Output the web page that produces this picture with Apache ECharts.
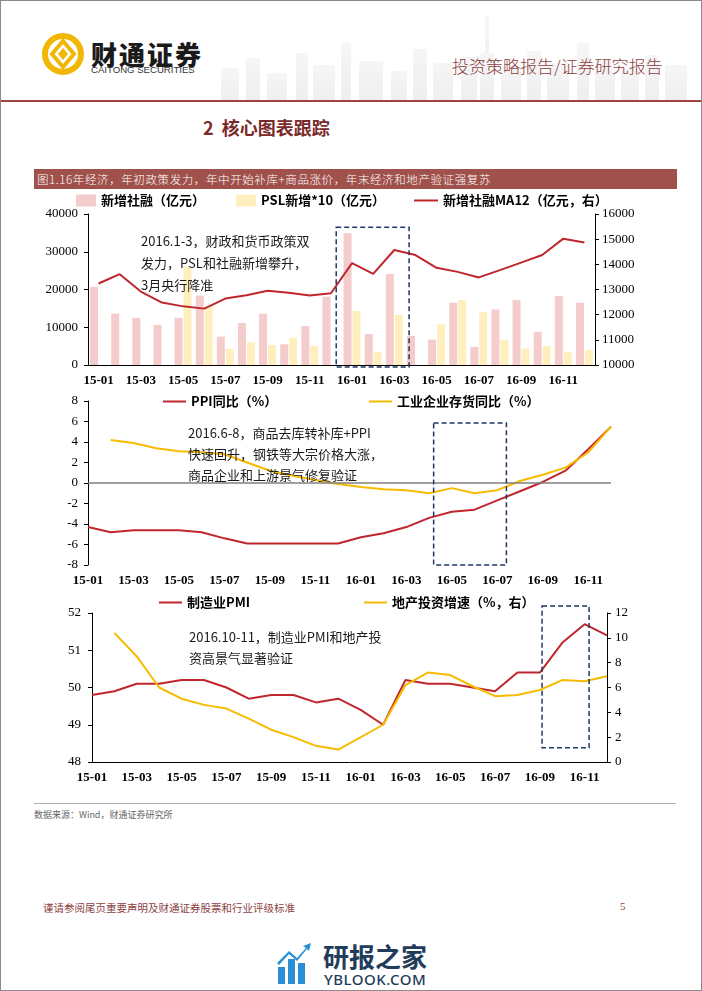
<!DOCTYPE html>
<html>
<head>
<meta charset="utf-8">
<title>核心图表跟踪</title>
<script src="https://cdn.jsdelivr.net/npm/echarts@6/dist/echarts.min.js"></script>
<style>
body { margin: 0; background: #fff; }
#page {
  position: relative;
  width: 702px;
  height: 991px;
  background: #fff;
  overflow: hidden;
  box-sizing: border-box;
  border: 1px solid #8a8a8a;
  font-family: "Noto Sans CJK SC", sans-serif;
}
#page .abs { position: absolute; white-space: nowrap; }
#chart { position: absolute; left: 0; top: 0; width: 702px; height: 991px; z-index: 2; }
.brand { left: 90px; top: 34px; font-size: 26px; font-weight: 900; letter-spacing: 2px; color: #1a1a1a; }
.brand-en { left: 90px; top: 63px; font-family: "Liberation Sans", Arial, sans-serif; font-size: 9.6px; color: #333; }
.report { left: 451px; top: 52px; font-size: 17px; color: #8b3f3f; font-weight: 300; }
.redline { left: 0; top: 99px; width: 702px; height: 2px; background: #a04343; }
.section { left: 202px; top: 113px; font-size: 18px; font-weight: bold; color: #7a2a2a; }
.titlebar {
  left: 33px; top: 168px; width: 643px; height: 20px; line-height: 20px;
  background: #a0514c; color: #fff; font-size: 11.5px; letter-spacing: 0.6px;
  padding-left: 3px; box-sizing: border-box; font-weight: 300;
}
.sep { left: 33px; top: 802px; width: 642px; height: 1px; background: #b0b0b0; }
.source { left: 33px; top: 807px; font-size: 9px; color: #666; }
.footer { left: 42px; top: 899px; font-size: 10.5px; color: #8b3f3f; }
.pageno { left: 619px; top: 899px; font-size: 11px; color: #8b3f3f; font-family: "Liberation Serif", serif; }
.wm1 { left: 322px; top: 936px; font-size: 26px; font-weight: bold; color: #1f3c5a; }
.wm2 { left: 323px; top: 968px; font-size: 15px; font-weight: 500; color: #1f3c5a; letter-spacing: 0.5px; font-family: "Noto Sans", sans-serif; }
</style>
</head>
<body>
<div id="page">
  <svg class="abs" style="left:200px;top:12px" width="502" height="88">
    <defs>
      <linearGradient id="fade" x1="0" y1="0" x2="0" y2="1">
        <stop offset="0" stop-color="#f6f6f6"/>
        <stop offset="1" stop-color="#eeeeee"/>
      </linearGradient>
    </defs>
    <g fill="url(#fade)">
      <rect x="20" y="55" width="18" height="33"/>
      <rect x="45" y="45" width="14" height="43"/>
      <rect x="66" y="60" width="20" height="28"/>
      <rect x="95" y="40" width="12" height="48"/>
      <rect x="112" y="52" width="22" height="36"/>
      <rect x="140" y="30" width="10" height="58"/>
      <rect x="158" y="48" width="24" height="40"/>
      <rect x="190" y="58" width="16" height="30"/>
      <rect x="212" y="36" width="14" height="52"/>
      <rect x="232" y="50" width="20" height="38"/>
      <rect x="260" y="44" width="16" height="44"/>
      <rect x="284" y="2" width="4" height="86"/>
      <rect x="279" y="40" width="14" height="48"/>
      <rect x="300" y="54" width="20" height="34"/>
      <rect x="326" y="38" width="14" height="50"/>
      <rect x="346" y="50" width="22" height="38"/>
      <rect x="376" y="30" width="12" height="58"/>
      <rect x="394" y="46" width="20" height="42"/>
      <rect x="420" y="56" width="18" height="32"/>
      <rect x="444" y="42" width="14" height="46"/>
      <rect x="464" y="52" width="22" height="36"/>
    </g>
  </svg>
  <svg class="abs" style="left:40px;top:31px" width="44" height="44" viewBox="0 0 44 44">
    <circle cx="22" cy="22" r="18" fill="none" stroke="#f2b705" stroke-width="6"/>
    <path d="M22 9 L33 22 L22 35 L11 22 Z" fill="#fff" stroke="#f2b705" stroke-width="4"/>
    <path d="M22 16 L27 22 L22 28 L17 22 Z" fill="#f2b705"/>
  </svg>
  <div class="abs brand">财通证券</div>
  <div class="abs brand-en">CAITONG SECURITIES</div>
  <div class="abs report">投资策略报告/证券研究报告</div>
  <div class="abs redline"></div>
  <div class="abs section">2&nbsp;&nbsp;核心图表跟踪</div>
  <div class="abs titlebar">图1.16年经济，年初政策发力，年中开始补库+商品涨价，年末经济和地产验证强复苏</div>
  <div class="abs sep"></div>
  <div class="abs source">数据来源：Wind，财通证券研究所</div>
  <div class="abs footer">谨请参阅尾页重要声明及财通证券股票和行业评级标准</div>
  <div class="abs pageno">5</div>
  <svg class="abs" style="left:276px;top:942px" width="34" height="42" viewBox="0 0 34 42">
    <g fill="#2a8fd6">
      <rect x="1" y="24" width="7" height="17"/>
      <rect x="11" y="16" width="7" height="25"/>
      <rect x="21" y="20" width="7" height="21"/>
      <path d="M0 20 L12 8 L20 15 L29 5 L26 3 L34 0 L32 8 L30 6 L20 18 L12 11 L2 22 Z"/>
    </g>
  </svg>
  <div class="abs wm1">研报之家</div>
  <div class="abs wm2">YBLOOK.COM</div>
  <div id="chart"></div>
</div>
<script>
// months shared by the three panels
var months = ['15-01','15-02','15-03','15-04','15-05','15-06','15-07','15-08','15-09','15-10','15-11','15-12',
              '16-01','16-02','16-03','16-04','16-05','16-06','16-07','16-08','16-09','16-10','16-11','16-12'];

// panel 1: social financing (亿元)
var tsfNew = [20700,13600,12500,10600,12500,18400,7500,11100,13600,5500,10300,18100,
              34900,8200,24100,7700,6700,16500,4800,14700,17200,8800,18300,16500];
var pslNew10 = [null,null,null,null,26000,15500,4300,6000,5300,7200,5100,null,
                14300,3400,13300,null,10800,17200,14000,6700,4400,5100,3400,4000];
var tsfMa12 = [13240,13610,12920,12480,12330,12240,12640,12770,12950,12870,12760,12850,
               14050,13620,14570,14370,13860,13700,13480,13770,14070,14370,15020,14870];

// panel 2: PPI and industrial inventory (%)
var ppiYoy = [-4.3,-4.8,-4.6,-4.6,-4.6,-4.8,-5.4,-5.9,-5.9,-5.9,-5.9,-5.9,
              -5.3,-4.9,-4.3,-3.4,-2.8,-2.6,-1.7,-0.8,0.1,1.2,3.3,5.5];
var inventoryYoy = [null,4.2,3.9,3.4,3.1,3.0,2.8,2.0,1.2,0.7,0.3,-0.1,
                    -0.4,-0.6,-0.7,-1.0,-0.5,-1.0,-0.7,0.2,0.8,1.5,3.0,5.5];

// panel 3: PMI and real-estate investment growth
var pmi = [49.8,49.9,50.1,50.1,50.2,50.2,50.0,49.7,49.8,49.8,49.6,49.7,
           49.4,49.0,50.2,50.1,50.1,50.0,49.9,50.4,50.4,51.2,51.7,51.4];
var estateInv = [null,10.4,8.5,6.0,5.1,4.6,4.3,3.5,2.6,2.0,1.3,1.0,
                 null,3.0,6.2,7.2,7.0,6.1,5.3,5.4,5.8,6.6,6.5,6.9];

var SERIF = '"Liberation Serif", "Times New Roman", serif';
var SANS = '"Noto Sans CJK SC", sans-serif';
var RED = '#c0262d';
var YELLOW = '#f7bb00';

function xAxisOf(grid, gap, showLine) {
  return {
    type: 'category', gridIndex: grid, data: months, boundaryGap: gap,
    axisLine: { show: showLine, onZero: false, lineStyle: { color: '#000', width: 1 } },
    axisTick: { show: false },
    axisLabel: { interval: 1, margin: 9, color: '#000', fontFamily: SERIF, fontWeight: 'bold', fontSize: 13 },
    splitLine: { show: false }
  };
}
function yAxisOf(grid, pos, min, max, step, margin) {
  return {
    type: 'value', gridIndex: grid, position: pos, min: min, max: max, interval: step,
    axisLine: { show: true, lineStyle: { color: '#000', width: 1 } },
    axisTick: { show: true, inside: false, length: 4, lineStyle: { color: '#000' } },
    axisLabel: { margin: margin, color: '#000', fontFamily: SERIF, fontSize: 13,
      formatter: function (v) { return String(v); } },
    splitLine: { show: false }
  };
}
function legendOf(name, left, top, icon, w, h) {
  return {
    data: [name], left: left, top: top, icon: icon, itemWidth: w, itemHeight: h,
    selectedMode: false, padding: 0,
    textStyle: { color: '#000', fontFamily: SANS, fontWeight: 'bold', fontSize: 13 }
  };
}

var chart = echarts.init(document.getElementById('chart'));
var option = {
  animation: false,
  grid: [
    { left: 87, right: 108, top: 213, height: 151 },
    { left: 87, right: 92, top: 400, height: 164 },
    { left: 91, right: 96, top: 612, height: 149 }
  ],
  legend: [
    legendOf('新增社融（亿元）', 75, 193, 'rect', 20, 12),
    legendOf('PSL新增*10（亿元）', 235, 193, 'rect', 20, 12),
    legendOf('新增社融MA12（亿元，右）', 413, 193, 'rect', 24, 2),
    legendOf('PPI同比（%）', 162, 394, 'rect', 23, 2),
    legendOf('工业企业存货同比（%）', 368, 394, 'rect', 23, 2),
    legendOf('制造业PMI', 158, 595, 'rect', 23, 2),
    legendOf('地产投资增速（%，右）', 363, 595, 'rect', 23, 2)
  ],
  xAxis: [
    xAxisOf(0, true, true),
    xAxisOf(1, false, false),
    xAxisOf(2, false, true)
  ],
  yAxis: [
    yAxisOf(0, 'left', 0, 40000, 10000, 10),
    yAxisOf(0, 'right', 10000, 16000, 1000, 7),
    yAxisOf(1, 'left', -8, 8, 2, 10),
    yAxisOf(2, 'left', 48, 52, 1, 11),
    yAxisOf(2, 'right', 0, 12, 2, 8)
  ],
  series: [
    { name: '新增社融（亿元）', type: 'bar', xAxisIndex: 0, yAxisIndex: 0, data: tsfNew,
      barWidth: 8, barGap: '12%', itemStyle: { color: '#f4cccc' } },
    { name: 'PSL新增*10（亿元）', type: 'bar', xAxisIndex: 0, yAxisIndex: 0, data: pslNew10,
      barWidth: 8, itemStyle: { color: '#ffefbf' } },
    { name: '新增社融MA12（亿元，右）', type: 'line', xAxisIndex: 0, yAxisIndex: 1, data: tsfMa12,
      symbol: 'none', lineStyle: { color: RED, width: 2 }, itemStyle: { color: RED } },
    { name: 'PPI同比（%）', type: 'line', xAxisIndex: 1, yAxisIndex: 2, data: ppiYoy,
      symbol: 'none', lineStyle: { color: RED, width: 2 }, itemStyle: { color: RED },
      markLine: { silent: true, symbol: 'none', label: { show: false },
        lineStyle: { color: '#7f7f7f', width: 1.5, type: 'solid' }, data: [{ yAxis: 0 }] } },
    { name: '工业企业存货同比（%）', type: 'line', xAxisIndex: 1, yAxisIndex: 2, data: inventoryYoy,
      symbol: 'none', lineStyle: { color: YELLOW, width: 2 }, itemStyle: { color: YELLOW } },
    { name: '制造业PMI', type: 'line', xAxisIndex: 2, yAxisIndex: 3, data: pmi,
      symbol: 'none', lineStyle: { color: RED, width: 2 }, itemStyle: { color: RED } },
    { name: '地产投资增速（%，右）', type: 'line', xAxisIndex: 2, yAxisIndex: 4, data: estateInv,
      connectNulls: true, symbol: 'none', lineStyle: { color: YELLOW, width: 2 }, itemStyle: { color: YELLOW } }
  ]
};
chart.setOption(option);

// annotation texts
var notes = [
  { text: '2016.1-3，财政和货币政策双\n发力，PSL和社融新增攀升，\n3月央行降准', x: 140, y: 229, lh: 22 },
  { text: '2016.6-8，商品去库转补库+PPI\n快速回升，钢铁等大宗价格大涨，\n商品企业和上游景气修复验证', x: 187, y: 422, lh: 21 },
  { text: '2016.10-11，制造业PMI和地产投\n资高景气显著验证', x: 188, y: 626, lh: 21 }
];

// dashed highlight boxes, in axis units: [x from, x to] as category index, [y top, y bottom]
var boxes = [
  { xAxisIndex: 0, yAxisIndex: 0, x: [11.25, 14.7], y: [36500, -500] },
  { xAxisIndex: 1, yAxisIndex: 2, x: [15.2, 18.4], y: [5.85, -8] },
  { xAxisIndex: 2, yAxisIndex: 3, x: [20.1, 22.2], y: [52.19, 48.38] }
];

var graphic = notes.map(function (n) {
  return {
    type: 'text', left: n.x, top: n.y, z: 10,
    style: { text: n.text, fill: '#1a1a1a', font: '13px ' + SANS, lineHeight: n.lh }
  };
});
boxes.forEach(function (b) {
  var finder = { xAxisIndex: b.xAxisIndex, yAxisIndex: b.yAxisIndex };
  var p0 = chart.convertToPixel(finder, [0, b.y[0]]);
  var p1 = chart.convertToPixel(finder, [1, b.y[1]]);
  var step = p1[0] - p0[0];
  var x0 = p0[0] + b.x[0] * step;
  var x1 = p0[0] + b.x[1] * step;
  graphic.push({
    type: 'rect', z: 10,
    shape: { x: x0, y: p0[1], width: x1 - x0, height: p1[1] - p0[1] },
    style: { fill: 'none', stroke: '#1f3864', lineWidth: 1.5, lineDash: [5, 3] }
  });
});
chart.setOption({ graphic: graphic });
</script>
</body>
</html>
